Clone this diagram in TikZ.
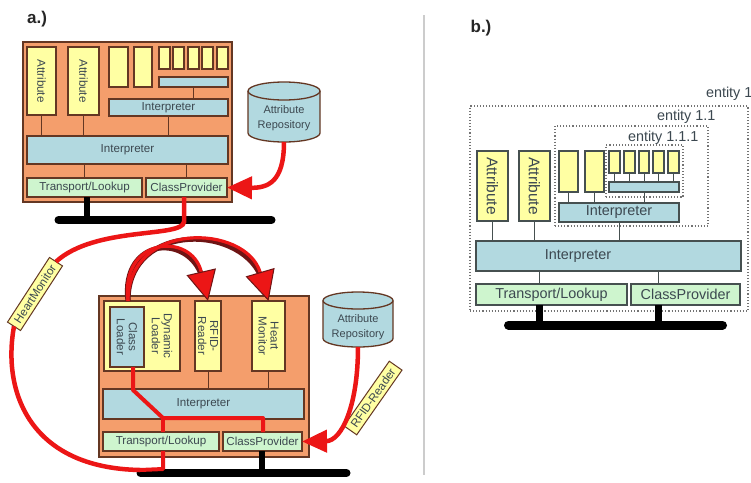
\documentclass[tikz,border=0pt]{standalone}
\usepackage{fontspec}
\setmainfont{Liberation Sans}
\usetikzlibrary{arrows.meta,shapes.geometric}
\definecolor{orng}{RGB}{244,158,108}
\definecolor{ylw}{RGB}{255,255,163}
\definecolor{blu}{RGB}{178,217,224}
\definecolor{grn}{RGB}{206,245,206}
\definecolor{edgea}{RGB}{100,55,35}
\definecolor{edgeb}{RGB}{70,80,80}
\definecolor{txt}{RGB}{60,72,80}
\definecolor{rd}{RGB}{236,22,22}
\definecolor{drd}{RGB}{110,20,20}
\newcommand\fsa{\fontsize{11.6}{12}\selectfont}
\newcommand\fsb{\fontsize{14.4}{15}\selectfont}
\newcommand\mybox[7]{\node[#1,anchor=north west,minimum width={#4-#2},minimum height={#5-#3}] (#6) at (#2,#3) {#7};}
\newcommand\mycyl[5]{%
  \filldraw[cylf] (#1-#4,#2+#5) -- (#1-#4,#3-#5) arc[start angle=180,end angle=360,x radius=#4pt,y radius=#5pt]
    -- (#1+#4,#2+#5) arc[start angle=0,end angle=180,x radius=#4pt,y radius=#5pt] -- cycle;
  \draw[cylf,fill=none] (#1-#4,#2+#5) arc[start angle=180,end angle=360,x radius=#4pt,y radius=#5pt];}
\begin{document}
\begin{tikzpicture}[x=1pt,y=-1pt,
  every node/.style={inner sep=0pt,outer sep=0pt,text=txt},
  ob/.style={draw=edgea,fill=orng,line width=1.3pt},
  ya/.style={draw=edgea,fill=ylw,line width=1.3pt},
  ba/.style={draw=edgea,fill=blu,line width=1.3pt,font=\fsa},
  ga/.style={draw=edgea,fill=grn,line width=1.3pt,font=\fsa},
  yb/.style={draw=edgeb,fill=ylw,line width=1.3pt},
  bb/.style={draw=edgeb,fill=blu,line width=1.3pt,font=\fsb},
  gb/.style={draw=edgeb,fill=grn,line width=1.3pt,font=\fsb},
  ca/.style={draw=edgea,line width=0.9pt},
  cb/.style={draw=edgeb,line width=0.9pt},
  busl/.style={draw=black,line width=8pt,line cap=round},
  steml/.style={draw=black,line width=6pt},
  redl/.style={draw=rd,line width=4.5pt},
  rota/.style={rotate=-90,font=\fsa,align=center},
  rotb/.style={rotate=-90,font=\fontsize{15.5}{16}\selectfont},
  dotb/.style={draw=black!55,dotted,line width=1.1pt},
  lbl/.style={fill=ylw,draw=edgea,line width=1pt,inner xsep=5pt,inner ysep=3.5pt,font=\fsa},
  cylf/.style={draw=edgea,fill=blu,line width=1.3pt},
  cylt/.style={align=center,font=\fontsize{11}{15}\selectfont},
  ttl/.style={font=\fontsize{17}{18}\selectfont\bfseries,text=black!85},
  dyntip/.style={-{Triangle[length=30pt,width=30pt,line width=1pt,color=drd,fill=rd]}}
]
\fill[white] (0,0) rectangle (751,482);
\useasboundingbox (0,0) rectangle (751,482);

% divider
\draw[black!20,line width=2pt] (424,15) -- (424,475);

% ===================== panel a (top) =====================
\node[ttl] (ta) at (37,19) {a.)};
\mybox{ob}{23}{42}{232}{202}{oa}{}
\mybox{ya}{27}{47}{56}{115}{a1}{}
\node[rota] (a1t) at (a1.center) {Attribute};
\mybox{ya}{68}{47}{99}{115}{a2}{}
\node[rota] (a2t) at (a2.center) {Attribute};
\mybox{ya}{109}{47}{128}{87}{a3}{}
\mybox{ya}{134}{47}{152}{87}{a4}{}
\mybox{ya}{159}{47}{170}{69}{s1}{}
\mybox{ya}{173}{47}{184}{69}{s2}{}
\mybox{ya}{188}{47}{199}{69}{s3}{}
\mybox{ya}{202}{47}{213}{69}{s4}{}
\mybox{ya}{217}{47}{228}{69}{s5}{}
\mybox{ba}{159}{77}{228}{87}{sb}{}
\mybox{ba}{109}{99}{228}{116}{ii}{Interpreter}
\mybox{ba}{27}{136}{228}{164}{bi}{Interpreter}
\mybox{ga}{27}{178}{142}{197}{tl}{Transport/Lookup}
\mybox{ga}{146}{178}{227}{197}{cp}{ClassProvider}
\draw[ca] (sb.south) -- (sb.south |- ii.north);
\draw[ca] (a1.south) -- (a1.south |- bi.north);
\draw[ca] (a2.south) -- (a2.south |- bi.north);
\draw[ca] (ii.south) -- (ii.south |- bi.north);
\draw[ca] (tl.north) -- (tl.north |- bi.south);
\draw[ca] (cp.north) -- (cp.north |- bi.south);
\mycyl{284}{82}{142}{36}{9}
\node[cylt] (repot) at (284,118) {Attribute\\Repository};
\coordinate (repo) at (284,142);

\coordinate (q0) at (87,220);
\coordinate (q1) at (184,222);
\node[inner sep=0pt] (bus1l) at (58,220) {};
\node[inner sep=0pt] (bus1r) at (272,220) {};
\draw[busl] (bus1l) -- (bus1r);
\draw[steml] (tl.south -| q0) -- (q0);

% ===================== panel a (bottom) =====================
\mybox{ob}{99}{296}{309}{457}{ob2}{}
\mybox{ya}{104}{301}{180}{371}{dl}{}
\node[rota] (dlt) at (162,336) {Dynamic\\Loader};
\mybox{ba}{110}{307}{144}{367}{cl}{}
\node[rota] (clt) at (cl.center) {Class\\Loader};
\mybox{ya}{195}{301}{221}{371}{rf}{}
\node[rota] (rft) at (rf.center) {RFID-\\Reader};
\mybox{ya}{252}{301}{285}{371}{hmn}{}
\node[rota] (hmnt) at (hmn.center) {Heart\\Monitor};
\mybox{ba}{103}{389}{304}{419}{bi2}{Interpreter}
\mybox{ga}{103}{432}{219}{451}{tl2}{Transport/Lookup}
\mybox{ga}{223}{432}{302}{451}{cp2}{ClassProvider}
\draw[ca] (rf.south) -- (rf.south |- bi2.north);
\draw[ca] (hmn.south) -- (hmn.south |- bi2.north);
\mycyl{358}{292}{347}{35}{8.5}
\node[cylt] (repo2t) at (358,327) {Attribute\\Repository};
\coordinate (repo2) at (358,347);

\coordinate (w0) at (262,473);
\node[inner sep=0pt] (bus2l) at (140,473) {};
\node[inner sep=0pt] (bus2r) at (347,473) {};
\draw[busl] (bus2l) -- (bus2r);
\draw[steml] (cp2.south -| w0) -- (w0);

% red internal path
\coordinate (r1) at (133,390);
\coordinate (r2) at (163,418);
\coordinate (r3) at (263,418);
\coordinate (r4) at (163,469);
\coordinate (r5) at (140,470);
\draw[redl,line width=4pt,line join=round] (r1 |- cl.south) -- (r1) -- (r2) -- (r3) -- (r3 |- cp2.north);
\draw[redl,line width=4pt] (r2) -- (r2 |- tl2.north);
\draw[redl,line width=4pt,line join=round] (r2 |- tl2.south) -- (r4) -- (r5);

% labels on the big red loop
\node[lbl,rotate=57] (hm) at (35,294) {HeartMonitor};
\node[lbl,rotate=55] (rr) at (373,398) {RFID-Reader};

% big red loop
\draw[redl] (q1 |- cp.south) -- (q1) .. controls (182,238) and (95,226) .. (hm.east);
\draw[redl] (hm.west) .. controls (2,392) and (30,468) .. (r5);

% repository arrows
\draw[redl,-{Triangle[length=25pt,width=22pt,color=rd]}] (repo) .. controls (284,182) and (268,188) .. (cp.east);
\draw[redl,-{Triangle[length=25pt,width=22pt,color=rd]}] (repo2) .. controls (358,405) and (342,441) .. (cp2.east);

% dynamic loading arrows
\coordinate (st) at (128,301);
\draw[drd,line width=5pt,shorten >=20pt] (st) .. controls (120,236) and (192,232) .. (rf.north);
\draw[drd,line width=5pt,shorten >=20pt] (st) .. controls (128,220) and (246,224) .. (hmn.north);
\draw[rd,line width=3.2pt,dyntip] (st) .. controls (120,236) and (192,232) .. (rf.north);
\draw[rd,line width=3.2pt,dyntip] (st) .. controls (128,220) and (246,224) .. (hmn.north);

% ===================== panel b =====================
\node[ttl] (tb) at (481,28) {b.)};
\mybox{dotb}{470}{106}{748}{311}{e1}{}
\mybox{dotb}{555}{126}{708}{226}{e11}{}
\mybox{dotb}{606}{145}{683}{197}{e111}{}
\node[font=\fsb,anchor=west] (e1t) at (706,94) {entity 1};
\node[font=\fsb,anchor=west] (e11t) at (657,117) {entity 1.1};
\node[font=\fsb,anchor=west] (e111t) at (628,138) {entity 1.1.1};

\mybox{yb}{477}{151}{508}{221}{b1}{}
\node[rotb] (b1t) at (b1.center) {Attribute};
\mybox{yb}{519}{151}{550}{221}{b2}{}
\node[rotb] (b2t) at (b2.center) {Attribute};
\mybox{yb}{559}{151}{578}{192}{b3}{}
\mybox{yb}{585}{151}{604}{192}{b4}{}
\mybox{yb}{609}{151}{620}{173}{t1}{}
\mybox{yb}{624}{151}{635}{173}{t2}{}
\mybox{yb}{639}{151}{649}{173}{t3}{}
\mybox{yb}{653}{151}{664}{173}{t4}{}
\mybox{yb}{668}{151}{679}{173}{t5}{}
\mybox{bb}{609}{182}{679}{192}{tb2}{}
\mybox{bb}{559}{203}{679}{222}{iib}{Interpreter}
\mybox{bb}{476}{241}{741}{271}{bib}{}
\node[font=\fsb] (bibt) at (578,256) {Interpreter};
\mybox{gb}{476}{284}{627}{305}{tlb}{Transport/Lookup}
\mybox{gb}{631}{284}{740}{305}{cpb}{ClassProvider}

\foreach \n in {t1,t2,t3,t4,t5} \draw[cb] (\n.south) -- (\n.south |- tb2.north);
\draw[cb] (b3.south) -- (b3.south |- iib.north);
\draw[cb] (b4.south) -- (b4.south |- iib.north);
\draw[cb] (tb2.south) -- (tb2.south |- iib.north);
\draw[cb] (b1.south) -- (b1.south |- bib.north);
\draw[cb] (b2.south) -- (b2.south |- bib.north);
\draw[cb] (iib.south) -- (iib.south |- bib.north);
\coordinate (xb1) at (539,325);
\coordinate (xb2) at (658,325);
\draw[cb] (tlb.north -| xb1) -- (bib.south -| xb1);
\draw[cb] (cpb.north -| xb2) -- (bib.south -| xb2);

\node[inner sep=0pt] (bus3l) at (508,325) {};
\node[inner sep=0pt] (bus3r) at (723,325) {};
\draw[busl,line width=9pt] (bus3l) -- (bus3r);
\draw[steml,line width=7pt] (tlb.south -| xb1) -- (xb1);
\draw[steml,line width=7pt] (cpb.south -| xb2) -- (xb2);
\end{tikzpicture}
\end{document}
